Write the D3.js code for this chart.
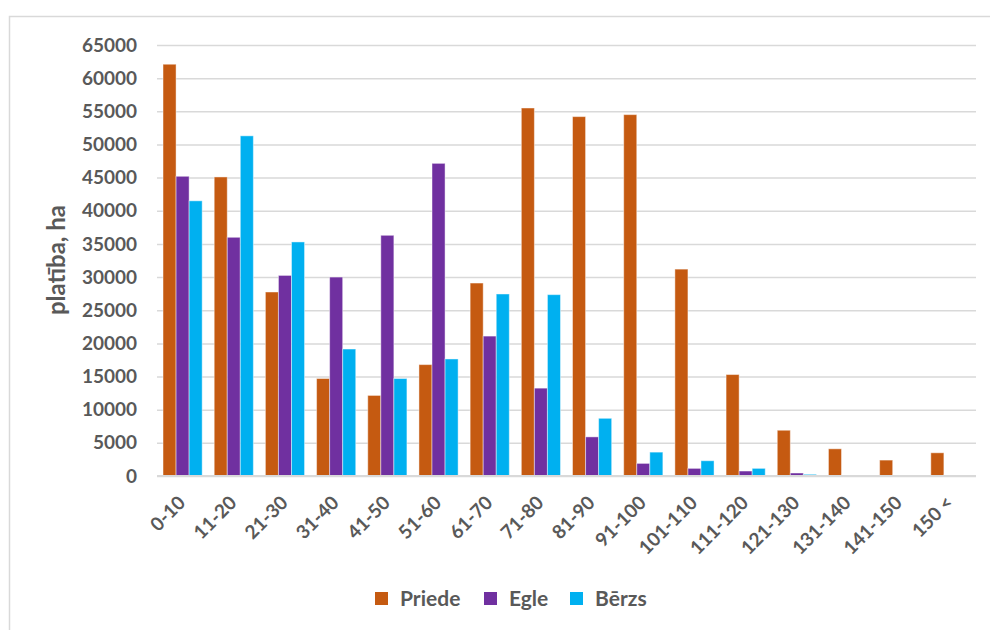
<!DOCTYPE html>
<html>
<head>
<meta charset="utf-8">
<script src="https://cdn.jsdelivr.net/npm/d3@7"></script>
<style>
  html, body { margin: 0; padding: 0; background: #fff; }
  svg { display: block; font-family: Lato, "Open Sans", sans-serif; }
</style>
</head>
<body>
<svg id="chart" width="990" height="630"></svg>
<script>
const categories = ["0-10","11-20","21-30","31-40","41-50","51-60","61-70","71-80","81-90","91-100","101-110","111-120","121-130","131-140","141-150","150 <"];
const seriesNames = ["Priede","Egle","Bērzs"];
const priede = [62100,45100,27750,14700,12150,16800,29100,55500,54200,54500,31200,15300,6900,4100,2400,3500];
const egle   = [45200,36000,30250,30000,36300,47150,21100,13250,5900,1900,1150,750,450,150,150,150];
const berzs  = [41500,51300,35300,19150,14700,17650,27450,27350,8700,3600,2300,1150,250,30,0,0];
const yTicks = [0,5000,10000,15000,20000,25000,30000,35000,40000,45000,50000,55000,60000,65000];
const colors = ["#C55A11","#7030A0","#00B0F0"];
const yTitle = "platība, ha";

const seriesValues = [priede, egle, berzs];
const svg = d3.select("#chart");

// chart border
svg.append("rect").attr("x", 9.5).attr("y", 16.5).attr("width", 1200).attr("height", 800)
  .attr("fill", "none").attr("stroke", "#d9d9d9").attr("stroke-width", 1.5);

const x0 = d3.scaleBand().domain(categories).range([157, 976]).paddingInner(0.235).paddingOuter(0.1175);
const x1 = d3.scaleBand().domain(seriesNames).range([0, x0.bandwidth()]).padding(0);
const y = d3.scaleLinear().domain([0, 65000]).range([476, 45]);

// gridlines
const yAxis = d3.axisLeft(y).tickValues(yTicks).tickSize(-(976 - 157)).tickFormat(d => d);
const gy = svg.append("g").attr("transform", "translate(157,0)").call(yAxis);
gy.select(".domain").remove();
gy.selectAll(".tick line").attr("stroke", "#d9d9d9").attr("stroke-width", 1.5);
gy.selectAll(".tick text").attr("x", -20).attr("fill", "#595959")
  .style("font-size", "19px").style("font-weight", "bold").style("font-family", "Lato, sans-serif");

// bars
const groups = svg.append("g").selectAll("g").data(categories).join("g")
  .attr("transform", d => `translate(${x0(d)},0)`);
groups.selectAll("rect").data((c, i) => seriesNames.map((s, si) => ({ s, si, v: seriesValues[si][i] })))
  .join("rect")
  .attr("x", d => x1(d.s))
  .attr("y", d => y(d.v))
  .attr("width", x1.bandwidth())
  .attr("height", d => y(0) - y(d.v))
  .attr("fill", d => colors[d.si])
  .attr("stroke", "#ffffff").attr("stroke-opacity", 0.45).attr("stroke-width", 1);

// baseline
svg.append("line").attr("x1", 157).attr("x2", 976).attr("y1", y(0)).attr("y2", y(0))
  .attr("stroke", "#d9d9d9").attr("stroke-width", 2);

// x labels
const xAxis = d3.axisBottom(x0).tickSize(0).tickFormat(d => d);
const gx = svg.append("g").attr("transform", `translate(0,${y(0)})`).call(xAxis);
gx.select(".domain").remove();
gx.selectAll(".tick text")
  .attr("text-anchor", "end")
  .attr("x", 0).attr("y", 0).attr("dy", 0)
  .attr("transform", "translate(4,28) rotate(-45)")
  .attr("fill", "#595959")
  .style("font-size", "19px").style("font-weight", "bold").style("font-family", "Lato, sans-serif");

// y title
svg.append("text").attr("transform", "translate(65,260) rotate(-90)")
  .attr("text-anchor", "middle").attr("fill", "#595959")
  .style("font-size", "24px").style("font-weight", "bold").text(yTitle);

// legend
const legendX = [375, 484, 570];
const lg = svg.append("g").selectAll("g").data(seriesNames).join("g")
  .attr("transform", (d, i) => `translate(${legendX[i]},592)`);
lg.append("rect").attr("width", 13).attr("height", 13).attr("fill", (d, i) => colors[i]);
lg.append("text").attr("x", 25).attr("y", 14).attr("fill", "#595959")
  .style("font-size", "21px").style("font-weight", "bold").text(d => d);
</script>
</body>
</html>
